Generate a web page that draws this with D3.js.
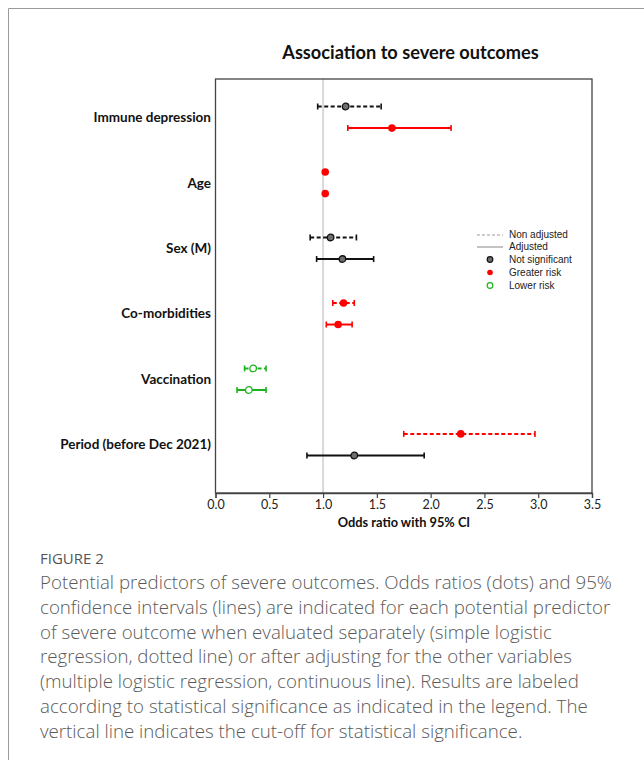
<!DOCTYPE html>
<html>
<head>
<meta charset="utf-8">
<script src="https://cdn.jsdelivr.net/npm/d3@7"></script>
<style>
  html, body { margin: 0; padding: 0; background: #fff; }
  svg { display: block; }
</style>
</head>
<body>
<svg id="chart" width="644" height="760"></svg>
<script>
// ---- data ----
const categories = ["Immune depression", "Age", "Sex (M)", "Co-morbidities", "Vaccination", "Period (before Dec 2021)"];
const nonAdjOR   = [1.21, 1.02, 1.07, 1.19, 0.35, 2.28];
const nonAdjLow  = [0.95, 1.02, 0.88, 1.09, 0.27, 1.75];
const nonAdjHigh = [1.54, 1.03, 1.31, 1.29, 0.47, 2.97];
const nonAdjSig  = ["ns", "greater", "ns", "greater", "lower", "greater"];
const adjOR      = [1.64, 1.02, 1.18, 1.14, 0.31, 1.29];
const adjLow     = [1.23, 1.02, 0.94, 1.03, 0.20, 0.85];
const adjHigh    = [2.19, 1.03, 1.47, 1.27, 0.47, 1.94];
const adjSig     = ["greater", "greater", "ns", "greater", "lower", "ns"];
const xTicks     = [0, 0.5, 1.0, 1.5, 2.0, 2.5, 3.0, 3.5];
const cutoff     = 1.0;
const legendItems = [
  {label: "Non adjusted", kind: "dash"},
  {label: "Adjusted", kind: "solid"},
  {label: "Not significant", kind: "ns"},
  {label: "Greater risk", kind: "greater"},
  {label: "Lower risk", kind: "lower"}
];
const captionTitle = "FIGURE 2";
const captionLines = [
  "Potential predictors of severe outcomes. Odds ratios (dots) and 95%",
  "confidence intervals (lines) are indicated for each potential predictor",
  "of severe outcome when evaluated separately (simple logistic",
  "regression, dotted line) or after adjusting for the other variables",
  "(multiple logistic regression, continuous line). Results are labeled",
  "according to statistical significance as indicated in the legend. The",
  "vertical line indicates the cut-off for statistical significance."
];

// ---- layout ----
const svg = d3.select("#chart");
const box = {left: 215.5, right: 592, top: 79, bottom: 493};
const colorOf = {ns: "#111", greater: "#ff0000", lower: "#1db31d"};

const x = d3.scaleLinear().domain([0, 3.5]).range([box.left, box.right]);
const y = d3.scalePoint().domain(categories).range([117.3, 444.7]);
const rowOff = 10.8;

// outer frame
svg.append("line").attr("x1", 8.5).attr("x2", 644).attr("y1", 8.5).attr("y2", 8.5)
  .attr("stroke", "#9a9a9a").attr("stroke-width", 1);
svg.append("line").attr("x1", 8.5).attr("x2", 8.5).attr("y1", 8.5).attr("y2", 760)
  .attr("stroke", "#9a9a9a").attr("stroke-width", 1);

// title
svg.append("text").attr("x", 410.5).attr("y", 59)
  .attr("text-anchor", "middle")
  .style("font-family", "Lato, 'Open Sans', sans-serif").style("font-weight", "bold").style("font-size", "18.2px")
  .attr("fill", "#111").text("Association to severe outcomes");

// cutoff line
svg.append("line").attr("x1", x(cutoff)).attr("x2", x(cutoff)).attr("y1", box.top).attr("y2", box.bottom)
  .attr("stroke", "#d9d9d9").attr("stroke-width", 2);

// box
svg.append("rect").attr("x", box.left).attr("y", box.top)
  .attr("width", box.right - box.left).attr("height", box.bottom - box.top)
  .attr("fill", "none").attr("stroke", "#444").attr("stroke-width", 1.3);

// x axis
const xAxis = svg.append("g").attr("transform", `translate(0,${box.bottom})`)
  .call(d3.axisBottom(x).tickValues(xTicks).tickFormat(d3.format(".1f")).tickSize(5).tickPadding(2));
xAxis.select(".domain").attr("stroke", "#444").attr("stroke-width", 1.3);
xAxis.selectAll(".tick line").attr("stroke", "#444").attr("stroke-width", 1.2);
xAxis.selectAll(".tick text").style("font-family", "Lato, 'Open Sans', sans-serif")
  .style("font-size", "12.5px").attr("fill", "#222");

svg.append("text").attr("x", 404).attr("y", 527).attr("text-anchor", "middle")
  .style("font-family", "Lato, 'Open Sans', sans-serif").style("font-weight", "bold").style("font-size", "12.8px")
  .attr("fill", "#111").text("Odds ratio with 95% CI");

// category labels
svg.append("g").selectAll("text").data(categories).join("text")
  .attr("x", 211).attr("y", d => y(d)).attr("dy", "0.35em").attr("text-anchor", "end")
  .style("font-family", "Lato, 'Open Sans', sans-serif").style("font-weight", "bold").style("font-size", "13.5px")
  .attr("fill", "#111").text(d => d);

// rows
const rows = [];
categories.forEach((c, i) => {
  rows.push({cat: c, off: -rowOff, or: nonAdjOR[i], lo: nonAdjLow[i], hi: nonAdjHigh[i], sig: nonAdjSig[i], dashed: true});
  rows.push({cat: c, off: rowOff, or: adjOR[i], lo: adjLow[i], hi: adjHigh[i], sig: adjSig[i], dashed: false});
});

const g = svg.append("g");
const rg = g.selectAll("g.row").data(rows).join("g").attr("class", "row")
  .attr("transform", d => `translate(0,${y(d.cat) + d.off})`);
rg.append("line").attr("x1", d => x(d.lo)).attr("x2", d => x(d.hi))
  .attr("stroke", d => colorOf[d.sig]).attr("stroke-width", 2)
  .attr("stroke-dasharray", d => d.dashed ? "4,2.5" : null);
rg.append("line").attr("x1", d => x(d.lo)).attr("x2", d => x(d.lo)).attr("y1", -3).attr("y2", 3)
  .attr("stroke", d => colorOf[d.sig]).attr("stroke-width", 1.6);
rg.append("line").attr("x1", d => x(d.hi)).attr("x2", d => x(d.hi)).attr("y1", -3).attr("y2", 3)
  .attr("stroke", d => colorOf[d.sig]).attr("stroke-width", 1.6);
rg.append("circle").attr("cx", d => x(d.or)).attr("cy", 0)
  .attr("r", d => d.sig === "greater" ? 3.8 : 3.3)
  .attr("fill", d => d.sig === "ns" ? "#6e6e6e" : d.sig === "greater" ? "#ff0000" : "#fff")
  .attr("stroke", d => d.sig === "ns" ? "#111" : d.sig === "greater" ? "#ff0000" : "#1db31d")
  .attr("stroke-width", d => d.sig === "greater" ? 0 : 1.3);

// legend
const lg = svg.append("g");
const legY = [234, 246, 259.5, 272.5, 285.5];
legendItems.forEach((it, i) => {
  const yy = legY[i];
  if (it.kind === "dash" || it.kind === "solid") {
    lg.append("line").attr("x1", 477).attr("x2", 503).attr("y1", yy + 1).attr("y2", yy + 1)
      .attr("stroke", "#bdbdbd").attr("stroke-width", it.kind === "dash" ? 1.3 : 1.8)
      .attr("stroke-dasharray", it.kind === "dash" ? "3,2" : null);
  } else {
    lg.append("circle").attr("cx", 490).attr("cy", yy).attr("r", 2.8)
      .attr("fill", it.kind === "ns" ? "#6e6e6e" : it.kind === "greater" ? "#ff0000" : "#fff")
      .attr("stroke", it.kind === "ns" ? "#111" : it.kind === "greater" ? "#ff0000" : "#1db31d")
      .attr("stroke-width", it.kind === "greater" ? 0 : 1.2);
  }
  lg.append("text").attr("x", 509).attr("y", yy).attr("dy", "0.35em")
    .style("font-family", "'Liberation Sans', Arial, sans-serif").style("font-size", "10px")
    .attr("fill", "#222").text(it.label);
});

// caption
svg.append("text").attr("x", 40).attr("y", 564)
  .style("font-family", "'Open Sans', sans-serif").style("font-size", "15px")
  .attr("fill", "#555").text(captionTitle);
svg.append("g").selectAll("text").data(captionLines).join("text")
  .attr("x", 40).attr("y", (d, i) => 589 + i * 24.8)
  .style("font-family", "'Open Sans', sans-serif").style("font-size", "18.7px").style("font-weight", 300)
  .attr("fill", "#5a5a5a").text(d => d);
</script>
</body>
</html>
